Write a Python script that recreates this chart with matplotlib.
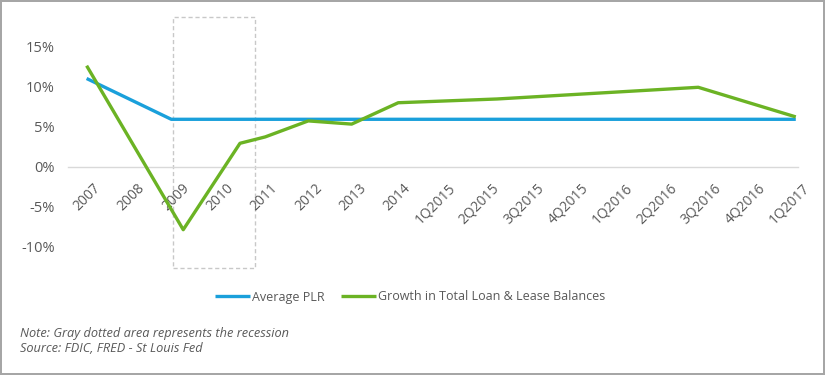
import matplotlib
matplotlib.use("Agg")
import matplotlib.pyplot as plt
from matplotlib.patches import Rectangle
from matplotlib.transforms import ScaledTranslation

# categorias del eje x
categorias = ["2007", "2008", "2009", "2010", "2011", "2012", "2013", "2014",
              "1Q2015", "2Q2015", "3Q2015", "4Q2015", "1Q2016", "2Q2016",
              "3Q2016", "4Q2016", "1Q2017"]

# Average PLR (posicion en categorias, valor en %)
plr_x = [0, 1.91, 16]
plr_y = [11.0, 5.9, 5.9]

# Growth in Total Loan & Lease Balances
loan_x = [0, 2.18, 3.46, 4.03, 5.0, 5.98, 7.03, 9.26, 13.8, 16]
loan_y = [12.6, -7.9, 2.9, 3.7, 5.7, 5.3, 7.97, 8.44, 9.9, 6.2]

# recesion (zona gris punteada)
recesion_x = [1.94, 3.79]
recesion_y = [-12.7, 18.65]

yticks = [-10, -5, 0, 5, 10, 15]

gris = "#595959"
fuente = ["Open Sans", "DejaVu Sans"]

fig = plt.figure(figsize=(8.25, 3.75), dpi=100, edgecolor="#a6a6a6", linewidth=1.5)
ax = fig.add_axes([68 / 825, 1 - 270.5 / 375, (798 - 68) / 825, (270.5 - 14.5) / 375])

# caja de la recesion
ax.add_patch(Rectangle((recesion_x[0], recesion_y[0]), recesion_x[1] - recesion_x[0],
                       recesion_y[1] - recesion_y[0], fill=False, edgecolor="#c8c8c8",
                       linewidth=1, linestyle=(0, (3, 2)), zorder=1, clip_on=False))

ax.plot(plr_x, plr_y, color="#1aa0db", linewidth=2.4, label="Average PLR", zorder=3,
        solid_capstyle="butt")
ax.plot(loan_x, loan_y, color="#6bb324", linewidth=2.4,
        label="Growth in Total Loan & Lease Balances", zorder=4, solid_capstyle="butt")

ax.set_xlim(-0.42, 16.05)
ax.set_ylim(-13, 19)

for s in ["top", "right", "left"]:
    ax.spines[s].set_visible(False)
ax.spines["bottom"].set_position(("data", 0))
ax.spines["bottom"].set_color("#d9d9d9")
ax.spines["bottom"].set_linewidth(1)

ax.set_yticks(yticks)
ax.set_yticklabels([f"{v}%" for v in yticks], fontsize=10.5, color=gris, family=fuente)
ax.tick_params(axis="y", length=0, pad=9.4)

ax.set_xticks(range(len(categorias)))
ax.set_xticklabels(categorias, rotation=45, ha="right", va="top", rotation_mode="anchor",
                   fontsize=10, color=gris, family=fuente)
ax.tick_params(axis="x", length=0, pad=10.4)
desplaza = ScaledTranslation(6.5 / 100, 0, fig.dpi_scale_trans)
for lab in ax.get_xticklabels():
    lab.set_transform(lab.get_transform() + desplaza)

leg = fig.legend(loc="center", bbox_to_anchor=(410 / 825, 1 - 297 / 375), ncol=2, frameon=False,
                 handlelength=2.8, handletextpad=0.16, columnspacing=1.25,
                 prop={"family": fuente, "size": 9})
for t in leg.get_texts():
    t.set_color(gris)

fig.text(20 / 825, 1 - 333 / 375, "Note: Gray dotted area represents the recession",
         ha="left", va="center", fontsize=9.2, style="italic", color=gris, family=fuente)
fig.text(20 / 825, 1 - 349 / 375, "Source: FDIC, FRED - St Louis Fed",
         ha="left", va="center", fontsize=9.2, style="italic", color=gris, family=fuente)

fig.savefig("out.png", dpi=100, edgecolor=fig.get_edgecolor())
